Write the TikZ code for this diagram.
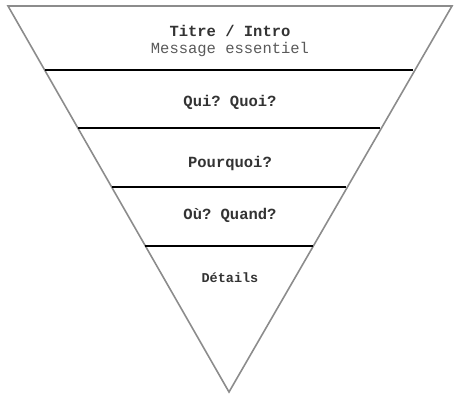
\documentclass[tikz,border=0pt]{standalone}
\usepackage{fontspec}
\setmonofont{Liberation Mono}
\begin{document}
\begin{tikzpicture}[x=1pt,y=-1pt,
  edge/.style={draw=black!45, line width=1.6pt, line join=miter},
  sep/.style={draw=black, line width=1.8pt},
  lbl/.style={font=\ttfamily\bfseries\fontsize{15.5}{18}\selectfont, text=black!80, inner sep=0pt},
  sub/.style={font=\ttfamily\fontsize{15.5}{18}\selectfont, text=black!65, inner sep=0pt}]
\useasboundingbox (0,0) rectangle (465,400);
\coordinate (tl) at (8,6);
\coordinate (tr) at (452,6);
\coordinate (ap) at (229,392);
\draw[edge] (tl) -- (tr) -- (ap) -- cycle;
\coordinate (l1) at (44.6,70); \coordinate (r1) at (413.4,70);
\coordinate (l2) at (77.8,128); \coordinate (r2) at (380.2,128);
\coordinate (l3) at (111.6,187); \coordinate (r3) at (346.4,187);
\coordinate (l4) at (145.4,246); \coordinate (r4) at (312.6,246);
\draw[sep] (l1) -- (r1);
\draw[sep] (l2) -- (r2);
\draw[sep] (l3) -- (r3);
\draw[sep] (l4) -- (r4);
\node[lbl] (t1) at (230,31) {Titre / Intro};
\node[sub] (t1b) at (230,49) {Message essentiel};
\node[lbl] (t2) at (230,102) {Qui? Quoi?};
\node[lbl] (t3) at (230,163) {Pourquoi?};
\node[lbl] (t4) at (230,215) {Où? Quand?};
\node[lbl, font=\ttfamily\bfseries\fontsize{13.5}{16}\selectfont] (t5) at (230,278) {Détails};
\end{tikzpicture}
\end{document}
